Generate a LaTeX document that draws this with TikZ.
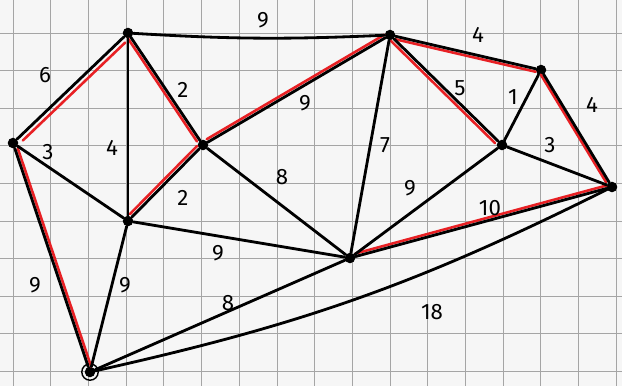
\documentclass[tikz,border=0pt]{standalone}
\usepackage{fontspec}
\setmainfont{Fira Sans}
\usepackage{tikz}
\usetikzlibrary{arrows.meta,positioning,calc}
\definecolor{paper}{RGB}{246,246,246}
\definecolor{gridgray}{RGB}{165,165,165}
\definecolor{mstred}{RGB}{232,32,36}
\tikzstyle{vtx}=[circle,fill=black,inner sep=0pt,minimum size=9pt]
\tikzstyle{edge}=[line width=2.4pt,draw=black,line cap=round]
\tikzstyle{wt}=[font=\fontsize{19}{23}\selectfont]
\tikzset{mst/.style={line width=2.2pt,draw=mstred,line cap=round,transform canvas={shift={#1}}}}

\begin{document}
\begin{tikzpicture}[x=0.03cm,y=-0.03cm]
      \fill[paper] (0,0) rectangle (622,386);
      \useasboundingbox (0,0) rectangle (622,386);
      % grid paper
      \foreach \k in {0,...,16}
        \draw[gridgray,line width=0.6pt] (13+37.7*\k,0) -- (13+37.7*\k,386);
      \foreach \k in {1,...,10}
        \draw[gridgray,line width=0.6pt] (0,-4.6+37.6*\k) -- (622,-4.6+37.6*\k);

      \node[vtx] (a) at (13,143) {};
      \node[vtx] (b) at (128,33) {};
      \node[vtx] (c) at (203,145) {};
      \node[vtx] (d) at (128,221) {};
      \node[vtx] (e) at (90,372) {};
      \node[vtx] (f) at (390,35) {};
      \node[vtx] (g) at (350,258) {};
      \node[vtx] (h) at (502,145) {};
      \node[vtx] (i) at (541,70) {};
      \node[vtx] (j) at (612,187) {};
      \node[circle,draw=black,line width=1.2pt,minimum size=14pt] (ering) at (e) {};

      % chosen edges
      \draw[mst={(3,4)}] ($(a)!0.06!(b)$) -- ($(a)!0.95!(b)$);
      \draw[mst={(3,0)}] (a) -- (e);
      \draw[mst={(-3,1)}] (b) -- (c);
      \draw[mst={(-2,-3)}] (c) -- (d);
      \draw[mst={(-1,-3)}] (c) -- (f);
      \draw[mst={(-3,2)}] (f) -- (h);
      \draw[mst={(0,3)}] (f) -- (i);
      \draw[mst={(-3,0)}] (i) -- (j);
      \draw[mst={(0,-3)}] (g) -- (j);

      % edges
      \draw[edge] (a) -- (b);
      \draw[edge] (a) -- (d);
      \draw[edge] (a) -- (e);
      \draw[edge] (b) -- (d);
      \draw[edge] (b) -- (c);
      \draw[edge] (b) to[bend right=3] (f);
      \draw[edge] (c) -- (d);
      \draw[edge] (c) -- (f);
      \draw[edge] (c) -- (g);
      \draw[edge] (d) -- (g);
      \draw[edge] (d) -- (e);
      \draw[edge] (e) -- (g);
      \draw[edge] (e) to[bend right=7] (j);
      \draw[edge] (f) -- (g);
      \draw[edge] (f) -- (h);
      \draw[edge] (f) -- (i);
      \draw[edge] (h) -- (i);
      \draw[edge] (h) -- (j);
      \draw[edge] (h) -- (g);
      \draw[edge] (i) -- (j);
      \draw[edge] (g) -- (j);

      % weights
      \node[wt] (wab) at (45,75) {6};
      \node[wt] (wad) at (48,152) {3};
      \node[wt] (wbd) at (112,148) {4};
      \node[wt] (wbc) at (183,90) {2};
      \node[wt] (wcd) at (183,198) {2};
      \node[wt] (wbf) at (263,20) {9};
      \node[wt] (wcf) at (305,103) {9};
      \node[wt] (wcg) at (282,177) {8};
      \node[wt] (wdg) at (218,253) {9};
      \node[wt] (wae) at (35,285) {9};
      \node[wt] (wde) at (125,285) {9};
      \node[wt] (weg) at (228,303) {8};
      \node[wt] (wej) at (432,312) {18};
      \node[wt] (wfg) at (385,145) {7};
      \node[wt] (whg) at (410,188) {9};
      \node[wt] (wgj) at (490,208) {10};
      \node[wt] (wfh) at (460,88) {5};
      \node[wt] (wfi) at (478,35) {4};
      \node[wt] (whi) at (513,97) {1};
      \node[wt] (wij) at (592,105) {4};
      \node[wt] (whj) at (550,145) {3};
    \end{tikzpicture}
\end{document}
